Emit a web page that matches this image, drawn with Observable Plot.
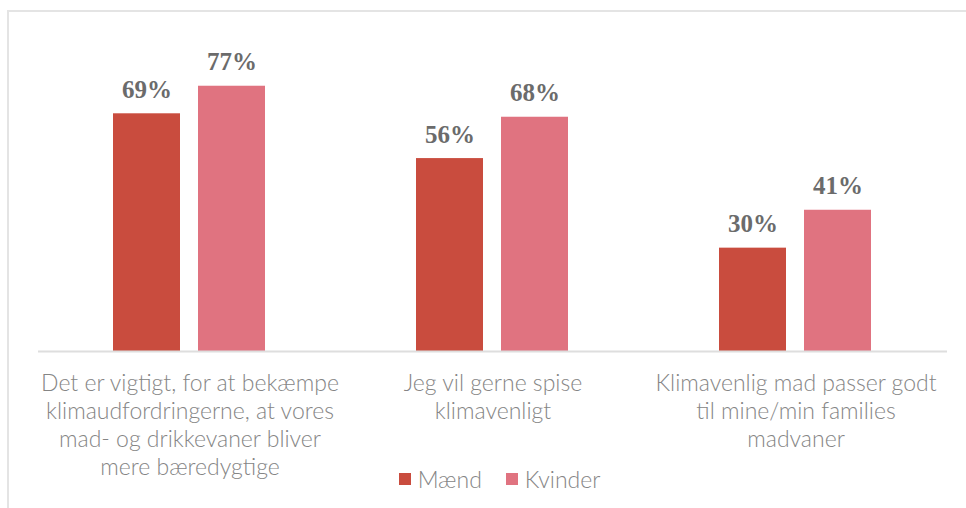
<!DOCTYPE html>
<html>
<head>
<meta charset="utf-8">
<script src="https://cdn.jsdelivr.net/npm/d3@7"></script>
<script src="https://cdn.jsdelivr.net/npm/@observablehq/plot@0.6"></script>
<style>
  html, body { margin: 0; padding: 0; background: #fff; }
  body { width: 966px; height: 508px; position: relative; overflow: hidden; }
  #frame { position: absolute; left: 7px; top: 10px; width: 1000px; height: 600px;
           border-left: 2px solid #e4e4e4; border-top: 2px solid #e4e4e4; box-sizing: border-box; }
  #chart { position: absolute; left: 0; top: 0; }
  #legend { position: absolute; left: 0; top: 465px; width: 966px; padding-left: 33px; box-sizing: border-box;
            display: flex; justify-content: center; gap: 24px;
            font-family: "Lato Light", Lato, sans-serif; font-weight: 300; font-size: 23px; color: #858585; }
  .item { display: flex; align-items: center; gap: 7px; }
  .sw { width: 12px; height: 12px; display: inline-block; }
</style>
</head>
<body>
<div id="frame"></div>
<div id="chart"></div>
<div id="legend"></div>
<script>
const groups = [
  "Det er vigtigt, for at bekæmpe\nklimaudfordringerne, at vores\nmad- og drikkevaner bliver\nmere bæredygtige",
  "Jeg vil gerne spise\nklimavenligt",
  "Klimavenlig mad passer godt\ntil mine/min families\nmadvaner"
];
const series = ["Mænd", "Kvinder"];
const maend = [69, 56, 30];
const kvinder = [77, 68, 41];
const colors = ["#c94c3e", "#e07380"];

const data = groups.flatMap((g, i) => [
  {group: g, series: series[0], value: maend[i]},
  {group: g, series: series[1], value: kvinder[i]}
]);

const chart = Plot.plot({
  width: 966,
  height: 508,
  marginTop: 6.5,
  marginBottom: 157,
  marginLeft: 37,
  marginRight: 19,
  style: {background: "transparent"},
  fx: {domain: groups, padding: 0, axis: null, label: null},
  x: {domain: series, paddingInner: 0.21, paddingOuter: 0.87, axis: null},
  y: {domain: [0, 100], axis: null},
  color: {domain: series, range: colors},
  marks: [
    Plot.barY(data, {fx: "group", x: "series", y: "value", fill: "series"}),
    Plot.ruleY([0], {stroke: "#dedede", strokeWidth: 2}),
    Plot.text(data, {
      fx: "group", x: "series", y: "value",
      text: d => d.value + "%",
      lineAnchor: "bottom", dy: -16,
      fontFamily: "'Liberation Serif', 'Times New Roman', serif", fontWeight: "bold", fontSize: 25, fill: "#6b6b6b"
    }),
    Plot.axisFx({
      anchor: "bottom", tickSize: 0, tickPadding: 20, label: null,
      fontSize: 23, lineHeight: 1.21, fill: "#858585",
      fontFamily: "'Lato Light', Lato, sans-serif", fontWeight: 300
    })
  ]
});
document.getElementById("chart").appendChild(chart);

const legend = document.getElementById("legend");
series.forEach((s, i) => {
  const it = document.createElement("div");
  it.className = "item";
  const sw = document.createElement("span");
  sw.className = "sw";
  sw.style.background = colors[i];
  const t = document.createElement("span");
  t.textContent = s;
  it.appendChild(sw);
  it.appendChild(t);
  legend.appendChild(it);
});
</script>
</body>
</html>
